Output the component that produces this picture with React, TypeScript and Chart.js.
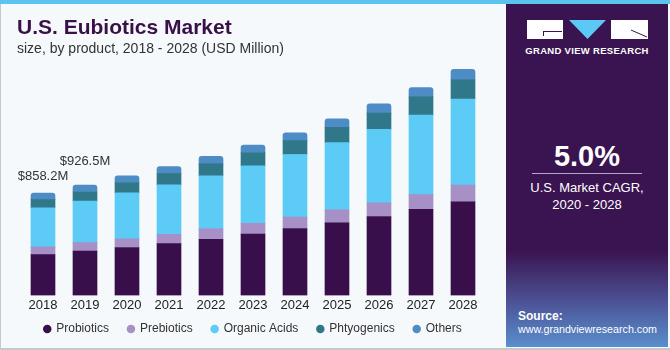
import React, { useEffect, useRef } from "react";
import { Chart, registerables } from "chart.js";

Chart.register(...registerables);

const years = ["2018", "2019", "2020", "2021", "2022", "2023", "2024", "2025", "2026", "2027", "2028"];
const probiotics = [342, 371.5, 402, 434, 471, 515, 561, 608, 662, 722, 786];
const prebiotics = [65, 71, 72, 79, 87, 90, 95, 110, 115, 123, 139];
const organicAcids = [327, 349, 386, 414, 445, 482, 526, 564, 617, 668, 723];
const phytogenics = [70, 76, 85, 95, 101, 112, 116, 129, 135, 152, 161];
const others = [54.2, 59, 59, 59, 62, 63, 65, 71, 78, 79, 88];
const totalLabels = ["$858.2M", "$926.5M"];

const FONT = "'Liberation Sans', Arial, sans-serif";
const PANEL = "#3a1450";

const labelOffsets = [10, 17];

const totalsPlugin = {
  id: "totals",
  afterDatasetsDraw(chart: any) {
    const ctx = chart.ctx;
    const meta = chart.getDatasetMeta(chart.data.datasets.length - 1);
    ctx.save();
    ctx.font = `13px ${FONT}`;
    ctx.fillStyle = "#333333";
    ctx.textAlign = "center";
    ctx.textBaseline = "bottom";
    totalLabels.forEach((t, i) => {
      const el = meta.data[i];
      if (!el) return;
      ctx.fillText(t, el.x, el.y - (labelOffsets[i] ?? 10));
    });
    ctx.restore();
  },
};

const legendShift = {
  id: "legendShift",
  afterLayout(chart: any) {
    if (chart.legend) {
      chart.legend.top -= 11;
      chart.legend.bottom -= 11;
    }
  },
};

function BarChart() {
  const ref = useRef<HTMLCanvasElement | null>(null);
  useEffect(() => {
    if (!ref.current) return;
    const chart = new Chart(ref.current, {
      type: "bar",
      data: {
        labels: years,
        datasets: [
          { label: "Probiotics", data: probiotics, backgroundColor: "#380f4a" },
          { label: "Prebiotics", data: prebiotics, backgroundColor: "#a690c5" },
          { label: "Organic Acids", data: organicAcids, backgroundColor: "#5ccbf6" },
          { label: "Phtyogenics", data: phytogenics, backgroundColor: "#31778a" },
          {
            label: "Others",
            data: others,
            backgroundColor: "#4d8cc4",
            borderRadius: { topLeft: 3, topRight: 3, bottomLeft: 0, bottomRight: 0 },
            borderSkipped: false,
          },
        ],
      },
      options: {
        responsive: false,
        animation: false,
        layout: { padding: { top: 57, bottom: 0, left: 22, right: 21 } },
        datasets: { bar: { barThickness: 24 } },
        scales: {
          x: {
            stacked: true,
            grid: { display: false, drawTicks: false },
            border: { display: false },
            ticks: { color: "#222222", padding: 2, font: { size: 13, family: FONT } },
          },
          y: { stacked: true, display: false, min: 0, max: 2000 },
        },
        plugins: {
          legend: {
            position: "bottom",
            labels: {
              usePointStyle: true,
              pointStyle: "circle",
              boxWidth: 6,
              boxHeight: 6,
              padding: 19,
              color: "#333333",
              font: { size: 12, family: FONT },
            },
          },
          tooltip: { enabled: false },
        },
      },
      plugins: [totalsPlugin, legendShift],
    });
    return () => chart.destroy();
  }, []);
  return (
    <canvas
      ref={ref}
      width={505}
      height={356}
      style={{ position: "absolute", left: 0, top: 0, width: 505, height: 356 }}
    />
  );
}

export default function App() {
  return (
    <div
      style={{
        position: "absolute",
        left: 0,
        top: 0,
        width: 670,
        height: 350,
        overflow: "hidden",
        background: "#f5f9fc",
        fontFamily: FONT,
      }}
    >
      <div style={{ position: "absolute", left: 0, top: 0, width: 670, height: 4, background: "#5cc3ee" }} />
      <div style={{ position: "absolute", left: 0, top: 4, width: 1, height: 346, background: "#c8c8c8" }} />
      <div style={{ position: "absolute", left: 0, top: 348, width: 670, height: 2, background: "#c8c8c8" }} />
      <BarChart />
      <div
        style={{
          position: "absolute",
          left: 17,
          top: 15,
          fontSize: 21,
          fontWeight: "bold",
          color: "#3a1049",
          whiteSpace: "nowrap",
        }}
      >
        U.S. Eubiotics Market
      </div>
      <div style={{ position: "absolute", left: 17, top: 40, fontSize: 14, color: "#333333", whiteSpace: "nowrap" }}>
        size, by product, 2018 - 2028 (USD Million)
      </div>
      <div
        style={{
          position: "absolute",
          left: 506,
          top: 4,
          width: 162,
          height: 343,
          background: `linear-gradient(180deg, ${PANEL} 0%, ${PANEL} 72%, #4b4f92 86%, #5a8fcd 100%)`,
          color: "#ffffff",
        }}
      >
        <svg width={162} height={60} style={{ position: "absolute", left: 0, top: 0 }}>
          <rect x={21} y={16} width={36} height={19} fill="#ffffff" />
          <line x1={37} y1={27.5} x2={56} y2={27.5} stroke={PANEL} strokeWidth={1} />
          <line x1={37.5} y1={27.5} x2={37.5} y2={32} stroke={PANEL} strokeWidth={1} />
          <polygon points="63,16 100,16 81.5,35" fill="#5cc8f5" />
          <rect x={105} y={16} width={37} height={19} fill="#ffffff" />
          <line x1={125} y1={26} x2={141} y2={33} stroke={PANEL} strokeWidth={1} />
        </svg>
        <div
          style={{
            position: "absolute",
            left: 0,
            width: 162,
            top: 41,
            textAlign: "center",
            fontSize: 9.5,
            fontWeight: "bold",
            letterSpacing: 0.3,
            whiteSpace: "nowrap",
          }}
        >
          GRAND VIEW RESEARCH
        </div>
        <div
          style={{
            position: "absolute",
            left: 0,
            width: 162,
            top: 136,
            textAlign: "center",
            fontSize: 29,
            fontWeight: "bold",
          }}
        >
          5.0%
        </div>
        <div style={{ position: "absolute", left: 26, top: 169, width: 110, height: 1, background: "#b7a6cc" }} />
        <div
          style={{
            position: "absolute",
            left: 0,
            width: 162,
            top: 175,
            textAlign: "center",
            fontSize: 13,
            lineHeight: "17px",
          }}
        >
          U.S. Market CAGR,
          <br />
          2020 - 2028
        </div>
        <div style={{ position: "absolute", left: 12, top: 305, fontSize: 12, fontWeight: "bold" }}>Source:</div>
        <div style={{ position: "absolute", left: 12, top: 319, fontSize: 10.7, whiteSpace: "nowrap" }}>
          www.grandviewresearch.com
        </div>
      </div>
    </div>
  );
}
